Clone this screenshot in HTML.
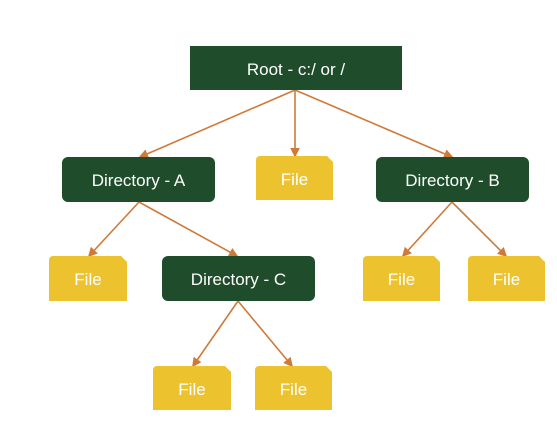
<!DOCTYPE html><html><head><style>
body{margin:0;width:557px;height:425px;background:#fff;position:relative;overflow:hidden;font-family:"Liberation Sans",sans-serif}
.n{position:absolute;display:flex;align-items:center;justify-content:center;color:#fff;font-size:17px;box-sizing:border-box;padding-top:3px}
.g{background:#1f4d2b;border-radius:6px}
.f{background:#ecc32f;clip-path:polygon(0 0,calc(100% - 6px) 0,100% 6px,100% 100%,0 100%);border-radius:4px 0 0 0}
</style></head><body>
<svg width="557" height="425" style="position:absolute;left:0;top:0">
<defs><marker id="a" markerWidth="6" markerHeight="6" refX="5" refY="3" orient="auto"><path d="M0,0L6,3L0,6z" fill="#d07a3a"/></marker></defs>
<g stroke="#d07a3a" stroke-width="1.6" marker-end="url(#a)" fill="none">
<line x1="295" y1="90" x2="140" y2="157"/>
<line x1="295" y1="90" x2="295" y2="156"/>
<line x1="295" y1="90" x2="452" y2="157"/>
<line x1="139" y1="202" x2="89" y2="256"/>
<line x1="139" y1="202" x2="237" y2="256"/>
<line x1="452" y1="202" x2="403" y2="256"/>
<line x1="452" y1="202" x2="506" y2="256"/>
<line x1="238" y1="301" x2="193" y2="366"/>
<line x1="238" y1="301" x2="292" y2="366"/>
</g></svg>
<div class="n g" style="left:190px;top:46px;width:212px;height:44px;border-radius:0">Root - c:/ or /</div>
<div class="n g" style="left:62px;top:157px;width:153px;height:45px">Directory - A</div>
<div class="n f" style="left:256px;top:156px;width:77px;height:44px">File</div>
<div class="n g" style="left:376px;top:157px;width:153px;height:45px">Directory - B</div>
<div class="n f" style="left:49px;top:256px;width:78px;height:45px">File</div>
<div class="n g" style="left:162px;top:256px;width:153px;height:45px">Directory - C</div>
<div class="n f" style="left:363px;top:256px;width:77px;height:45px">File</div>
<div class="n f" style="left:468px;top:256px;width:77px;height:45px">File</div>
<div class="n f" style="left:153px;top:366px;width:78px;height:44px">File</div>
<div class="n f" style="left:255px;top:366px;width:77px;height:44px">File</div>
</body></html>
